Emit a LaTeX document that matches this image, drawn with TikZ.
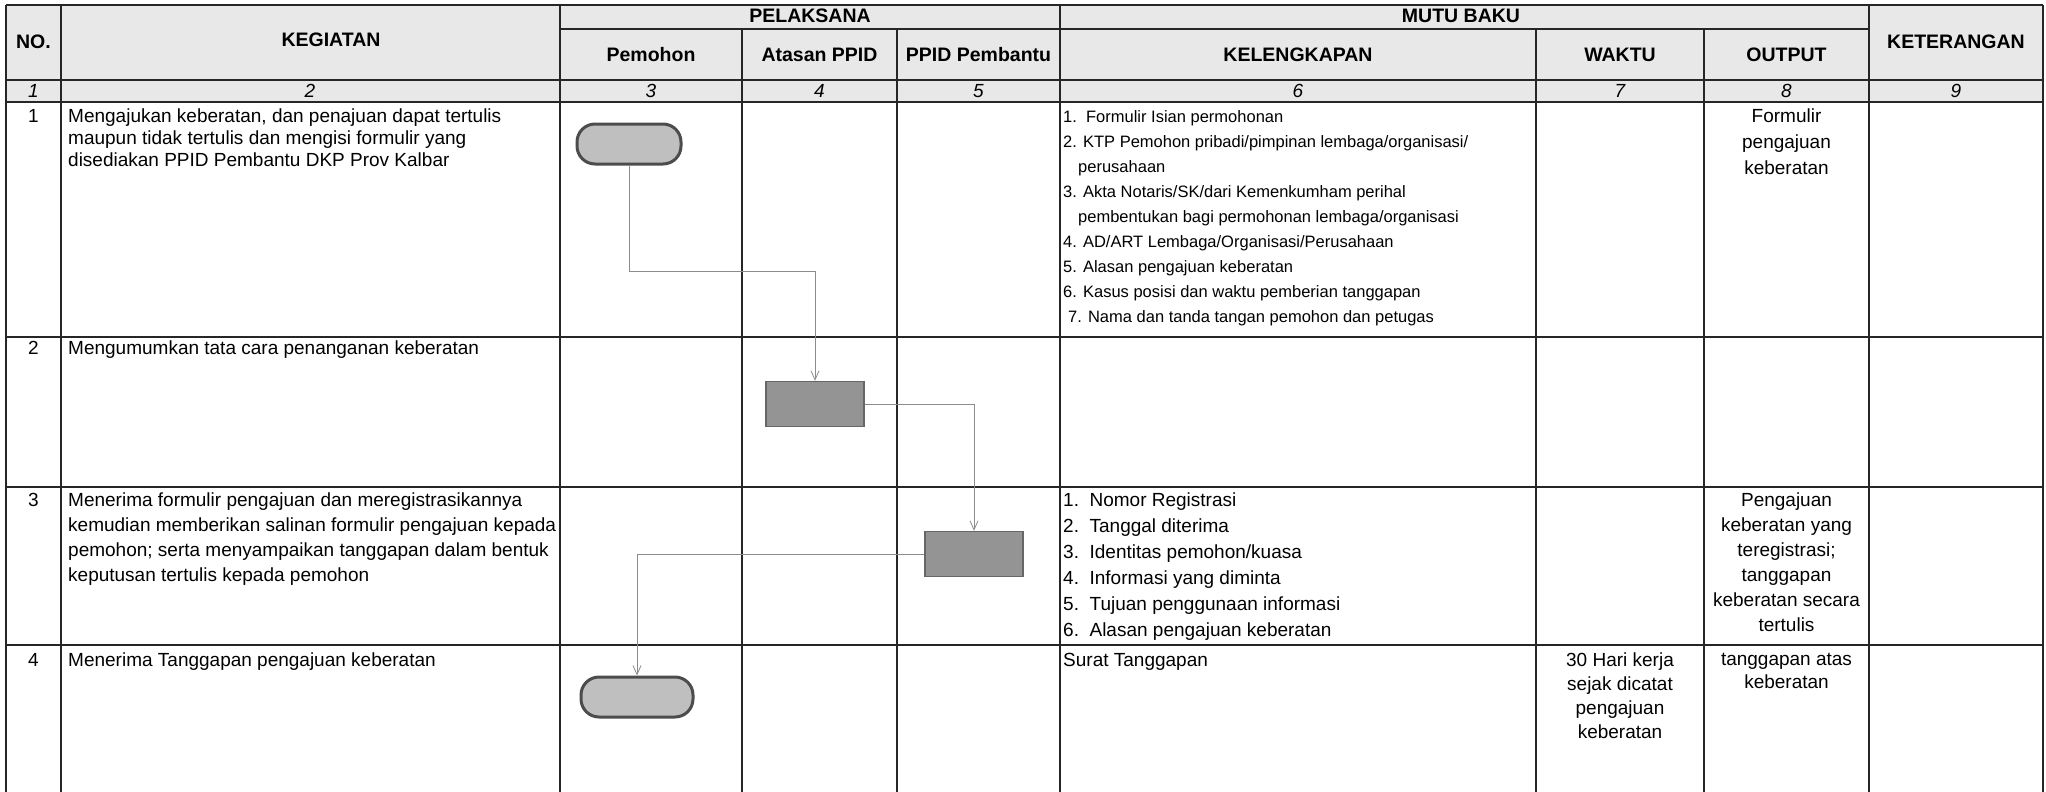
\documentclass[tikz,border=0pt]{standalone}
\usepackage{fontspec}
\setmainfont{Liberation Sans}
\usetikzlibrary{arrows.meta}

\begin{document}
\begin{tikzpicture}[x=1pt, y=-1pt,
		garis/.style={line width=1.6pt, black!85},
		judul/.style={font=\fontsize{19.5}{22}\selectfont\bfseries},
		nomor/.style={font=\fontsize{19}{20}\selectfont\itshape},
		isi/.style={font=\fontsize{19}{25}\selectfont, anchor=north west, inner sep=0pt, align=left},
		isikecil/.style={font=\fontsize{16.5}{25}\selectfont, anchor=north west, inner sep=0pt, align=left},
		tengah/.style={font=\fontsize{19}{25}\selectfont, anchor=north, inner sep=0pt, align=center},
		terminal/.style={draw=black!70, line width=3pt, fill=black!25, rounded corners=18pt, minimum width=104pt, minimum height=40pt},
		proses/.style={draw=black!60, line width=1.4pt, fill=black!42, minimum width=98pt, minimum height=45pt},
		alur/.style={black!45, line width=0.8pt, -{Straight Barb[length=9pt,width=8pt]}}]
		\useasboundingbox (0,0) rectangle (2046,792);
		
		% kepala tabel
		\fill[black!9] (6,5) rectangle (2043,102);
		\draw[garis] (6,5) -- (2043,5) (560,29) -- (1869,29) (6,80) -- (2043,80)
		(6,102) -- (2043,102) (6,337) -- (2043,337) (6,487) -- (2043,487) (6,645) -- (2043,645);
		\draw[garis] (6,5) -- (6,792) (61,5) -- (61,792) (560,5) -- (560,792) (1060,5) -- (1060,792)
		(1869,5) -- (1869,792) (2043,5) -- (2043,792);
		\draw[garis] (742,29) -- (742,792) (897,29) -- (897,792) (1536,29) -- (1536,792) (1704,29) -- (1704,792);
		
		\node[judul] (hno) at (33.5,42) {NO.};
		\node[judul] (hkeg) at (331,40) {KEGIATAN};
		\node[judul] (hpel) at (810,16) {PELAKSANA};
		\node[judul] (hmutu) at (1461,16) {MUTU BAKU};
		\node[judul] (hket) at (1956,42) {KETERANGAN};
		\node[judul] (hpem) at (651,55) {Pemohon};
		\node[judul] (hata) at (819.5,55) {Atasan PPID};
		\node[judul] (hppid) at (978.5,55) {PPID Pembantu};
		\node[judul] (hkel) at (1298,55) {KELENGKAPAN};
		\node[judul] (hwak) at (1620,55) {WAKTU};
		\node[judul] (hout) at (1786.5,55) {OUTPUT};
		
		\node[nomor] (k1) at (33.5,91) {1};
		\node[nomor] (k2) at (310,91) {2};
		\node[nomor] (k3) at (651,91) {3};
		\node[nomor] (k4) at (819.5,91) {4};
		\node[nomor] (k5) at (978.5,91) {5};
		\node[nomor] (k6) at (1298,91) {6};
		\node[nomor] (k7) at (1620,91) {7};
		\node[nomor] (k8) at (1786.5,91) {8};
		\node[nomor] (k9) at (1956,91) {9};
		
		% isi baris
		\node[tengah] (no1) at (33.5,109) {1};
		\node[tengah] (no2) at (33.5,341) {2};
		\node[tengah] (no3) at (33.5,493) {3};
		\node[tengah] (no4) at (33.5,653) {4};
		
		\node[isi, font=\fontsize{19}{22}\selectfont] (keg1) at (68,109) {Mengajukan keberatan, dan penajuan dapat tertulis\\maupun tidak tertulis dan mengisi formulir yang\\disediakan PPID Pembantu DKP Prov Kalbar};
		\node[isi] (keg2) at (68,341) {Mengumumkan tata cara penanganan keberatan};
		\node[isi] (keg3) at (68,493) {Menerima formulir pengajuan dan meregistrasikannya\\kemudian memberikan salinan formulir pengajuan kepada\\pemohon; serta menyampaikan tanggapan dalam bentuk\\keputusan tertulis kepada pemohon};
		\node[isi] (keg4) at (68,653) {Menerima Tanggapan pengajuan keberatan};
		
		\node[isikecil] (kel1) at (1063,110) {1.\ \ Formulir Isian permohonan\\
			2. KTP Pemohon pribadi/pimpinan lembaga/organisasi/\\
			\hspace*{15pt}perusahaan\\
			3. Akta Notaris/SK/dari Kemenkumham perihal\\
			\hspace*{15pt}pembentukan bagi permohonan lembaga/organisasi\\
			4. AD/ART Lembaga/Organisasi/Perusahaan\\
			5. Alasan pengajuan keberatan\\
			6. Kasus posisi dan waktu pemberian tanggapan\\
			\hspace*{5pt}7. Nama dan tanda tangan pemohon dan petugas};
		\node[isi, font=\fontsize{19}{26}\selectfont] (kel3) at (1063,493) {1.\ \ Nomor Registrasi\\2.\ \ Tanggal diterima\\3.\ \ Identitas pemohon/kuasa\\4.\ \ Informasi yang diminta\\5.\ \ Tujuan penggunaan informasi\\6.\ \ Alasan pengajuan keberatan};
		\node[isi] (kel4) at (1063,653) {Surat Tanggapan};
		
		\node[tengah, font=\fontsize{19}{24}\selectfont] (wak4) at (1620,653) {30 Hari kerja\\sejak dicatat\\pengajuan\\keberatan};
		
		\node[tengah, font=\fontsize{19}{26}\selectfont] (out1) at (1786.5,109) {Formulir\\pengajuan\\keberatan};
		\node[tengah] (out3) at (1786.5,493) {Pengajuan\\keberatan yang\\teregistrasi;\\tanggapan\\keberatan secara\\tertulis};
		\node[tengah, font=\fontsize{19}{23.5}\selectfont] (out4) at (1786.5,653) {tanggapan atas\\keberatan};
		
		% bagan alir
		\node[terminal] (mulai) at (629,144) {};
		\node[proses] (atasan) at (815,404) {};
		\node[proses] (pembantu) at (974,554) {};
		\node[terminal, minimum width=112pt] (selesai) at (637,697) {};
		\coordinate (b1) at (629,271);
		
		\draw[alur] (mulai.south) -- (b1) -| (atasan.north);
		\draw[alur] (atasan.east) -| (pembantu.north);
		\draw[alur] (pembantu.west) -| (selesai.north);
		
\end{tikzpicture}
\end{document}
